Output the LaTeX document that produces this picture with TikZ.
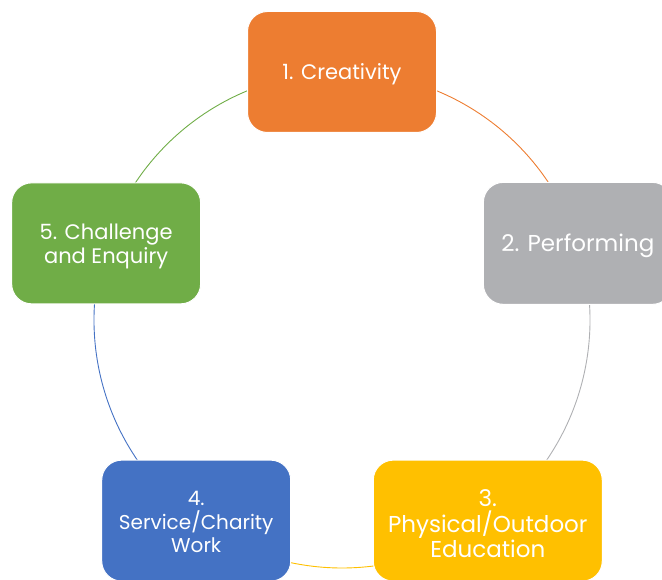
\documentclass[tikz,border=0pt]{standalone}
\usepackage{fontspec}
\setmainfont{Poppins}
\usetikzlibrary{backgrounds}
\definecolor{cOrange}{HTML}{ED7D31}
\definecolor{cGray}{HTML}{AFB0B3}
\definecolor{cYellow}{HTML}{FFC000}
\definecolor{cBlue}{HTML}{4472C4}
\definecolor{cGreen}{HTML}{70AD47}
\begin{document}
\begin{tikzpicture}[x=1pt,y=1pt,
  box/.style={rounded corners=20pt, draw=white, line width=1pt,
    inner sep=0pt, minimum width=189pt, minimum height=121pt},
  txt/.style={text=white, align=center, inner sep=0pt},
  link/.style={line width=0.9pt}]
\useasboundingbox (0,0) rectangle (662,579);
\clip (0,0) rectangle (662,579);
\coordinate (C) at (342,259);
\node[box, fill=cOrange] (n1) at ([shift={(90:248pt)}]C) {};
\node[box, fill=cGray, minimum height=122pt] (n2) at ([shift={(18:248pt)}]C) {};
\node[box, fill=cYellow, minimum width=229pt] (n3) at ([shift={(-54:248pt)}]C) {};
\node[box, fill=cBlue] (n4) at ([shift={(-126:248pt)}]C) {};
\node[box, fill=cGreen] (n5) at ([shift={(162:248pt)}]C) {};
\node[txt, font=\fontsize{21}{25}\selectfont] (t1) at ([yshift=-2.5pt]n1.center) {1. Creativity};
\node[txt, font=\fontsize{23}{26}\selectfont] (t2) at ([yshift=-2.5pt]n2.center) {2. Performing};
\node[txt, font=\fontsize{23}{25.5}\selectfont] (t3) at ([yshift=-3pt]n3.center) {3.\\Physical/Outdoor\\Education};
\node[txt, font=\fontsize{20}{23.5}\selectfont] (t4) at ([yshift=-1.5pt]n4.center) {4.\\Service/Charity\\Work};
\node[txt, font=\fontsize{21}{24}\selectfont] (t5) at ([yshift=-3.5pt]n5.center) {5. Challenge\\and Enquiry};
\begin{scope}[on background layer]
\draw[link, cOrange] (n1.center) arc[start angle=90, end angle=18, radius=248pt];
\draw[link, cGray] (n2.center) arc[start angle=18, end angle=-54, radius=248pt];
\draw[link, cYellow] (n3.center) arc[start angle=-54, end angle=-126, radius=248pt];
\draw[link, cBlue] (n4.center) arc[start angle=-126, end angle=-198, radius=248pt];
\draw[link, cGreen] (n5.center) arc[start angle=162, end angle=90, radius=248pt];
\end{scope}
\end{tikzpicture}
\end{document}
